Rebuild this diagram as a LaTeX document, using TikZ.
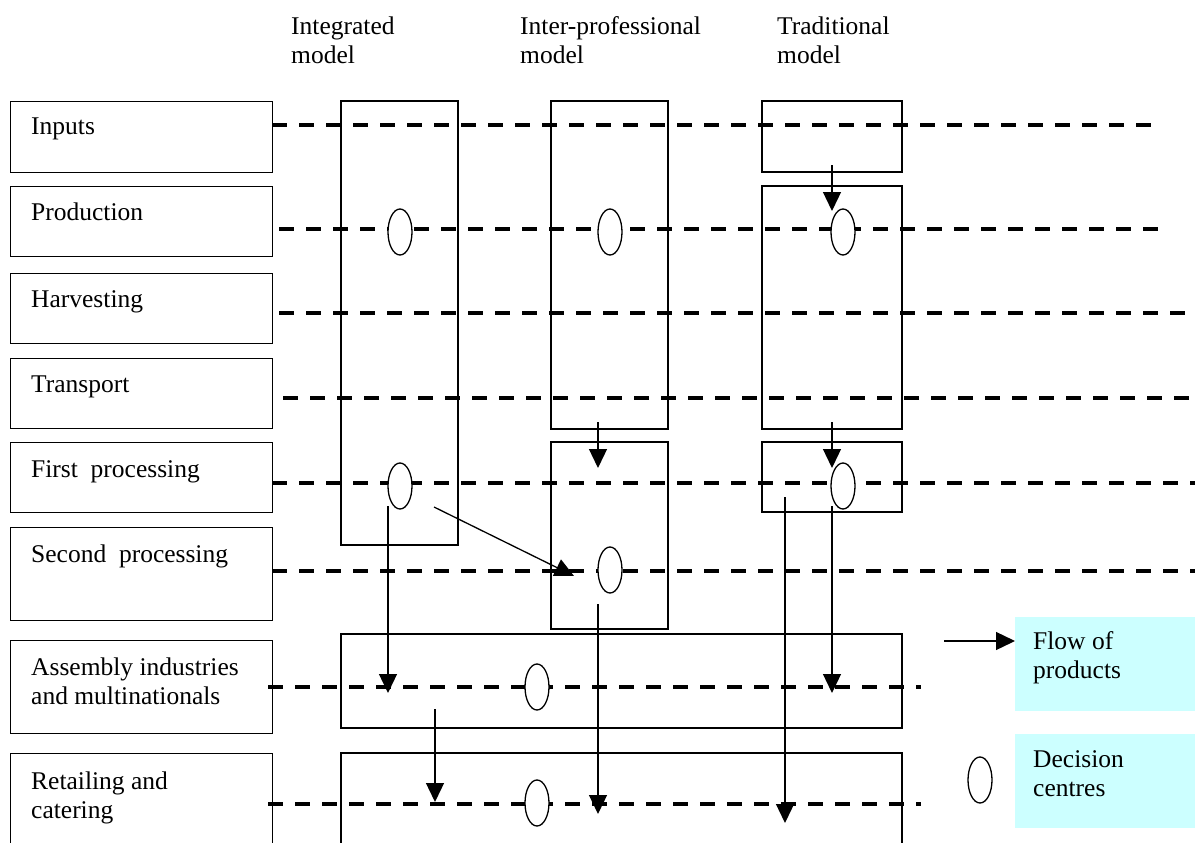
\documentclass[tikz,border=0pt]{standalone}
\usepackage{fontspec}
\setmainfont{Liberation Serif}
\usetikzlibrary{arrows.meta,shapes.geometric}
\definecolor{keycyan}{HTML}{CCFFFF}

\begin{document}
\begin{tikzpicture}[x=1pt, y=-1pt,
    stagebox/.style={draw, line width=1.3pt, minimum width=262pt, anchor=north west, inner sep=0pt},
    lbl/.style={font=\fontsize{25.5}{29}\selectfont, inner sep=0pt, anchor=base west, align=left},
    level/.style={line width=4pt, dash pattern=on 15pt off 12pt},
    frame/.style={line width=1.3pt},
    decision/.style={draw, ellipse, line width=1.3pt, fill=white, minimum width=24pt, minimum height=46pt, inner sep=0pt},
    flow/.style={line width=1.3pt, -{Triangle[length=19pt,width=18pt]}},
    keybox/.style={fill=keycyan, minimum width=180pt, minimum height=94pt, anchor=north west, inner sep=0pt}]
    \clip (0,0) rectangle (1195,843);
    % Headings (base = last line)
    \node[lbl] (intm) at (291,64) {Integrated\\model};
    \node[lbl] (interm) at (520,64) {Inter-professional\\model};
    \node[lbl] (tradm) at (777,64) {Traditional\\model};
    % Stages
    \foreach \nm/\ya/\hh/\bl/\txt in {inp/101/71/34/Inputs, prod/186/70/34/Production, harv/273/70/34/Harvesting,
        trans/358/70/34/Transport, first/442/70/35/{First\ \ processing}, second/527/93/35/{Second\ \ processing},
        asm/640/93/64/{Assembly industries\\and multinationals}, ret/753/120/65/{Retailing and\\catering}}
    {
    \node[stagebox, minimum height=\hh pt] (\nm) at (10,\ya) {};
    \node[lbl] (\nm-t) at (31,\ya+\bl) {\txt};
    }
    % Dashed levels
    \foreach \ya/\xa/\xb in {125/272/1157, 229/279/1159, 313/279/1200, 398/283/1200,
        483/272/1200, 571/272/1200, 687/268/921, 804/268/921}
    {
    \draw[level] (\xa,\ya) -- (\xb,\ya);
    }
    % Model frames
    \draw[frame] (341,101) rectangle (458,545);
    \draw[frame] (551,101) rectangle (668,429);
    \draw[frame] (551,442) rectangle (668,629);
    \draw[frame] (762,101) rectangle (902,172);
    \draw[frame] (762,186) rectangle (902,429);
    \draw[frame] (762,442) rectangle (902,512);
    \draw[frame] (341,634) rectangle (902,728);
    \draw[frame] (341,753) rectangle (902,880);
    % Decision centres
    \node[decision] (dc1) at (400,232) {};
    \node[decision] (dc2) at (610,232) {};
    \node[decision] (dc3) at (843,232) {};
    \node[decision] (dc4) at (400,486) {};
    \node[decision] (dc5) at (843,486) {};
    \node[decision] (dc6) at (610,570) {};
    \node[decision] (dc7) at (537,687) {};
    \node[decision] (dc8) at (537,803) {};
    % Flows
    \coordinate (f1a) at (832,165); \coordinate (f1b) at (832,211);
    \coordinate (f2a) at (598,422); \coordinate (f2b) at (598,468);
    \coordinate (f3a) at (832,422); \coordinate (f3b) at (832,468);
    \coordinate (f4a) at (388,506); \coordinate (f4b) at (388,693);
    \coordinate (f5a) at (434,507); \coordinate (f5b) at (574,576);
    \coordinate (f6a) at (435,709); \coordinate (f6b) at (435,802);
    \coordinate (f7a) at (598,604); \coordinate (f7b) at (598,814);
    \coordinate (f8a) at (832,506); \coordinate (f8b) at (832,693);
    \coordinate (f9a) at (785,497); \coordinate (f9b) at (785,823);
    \foreach \i in {1,...,9}
    {
    \draw[flow] (f\i a) -- (f\i b);
    }
    % Key
    \node[keybox] (flowkey) at (1015,617) {};
    \node[keybox] (deckey) at (1015,734) {};
    \node[lbl] (flowkey-t) at (1033,678) {Flow of\\products};
    \node[lbl] (deckey-t) at (1033,796) {Decision\\centres};
    \coordinate (keya) at (944,641);
    \draw[flow] (keya) -- (keya -| flowkey.west);
    \node[decision] (deckey-e) at (980,780) {};
\end{tikzpicture}
\end{document}
